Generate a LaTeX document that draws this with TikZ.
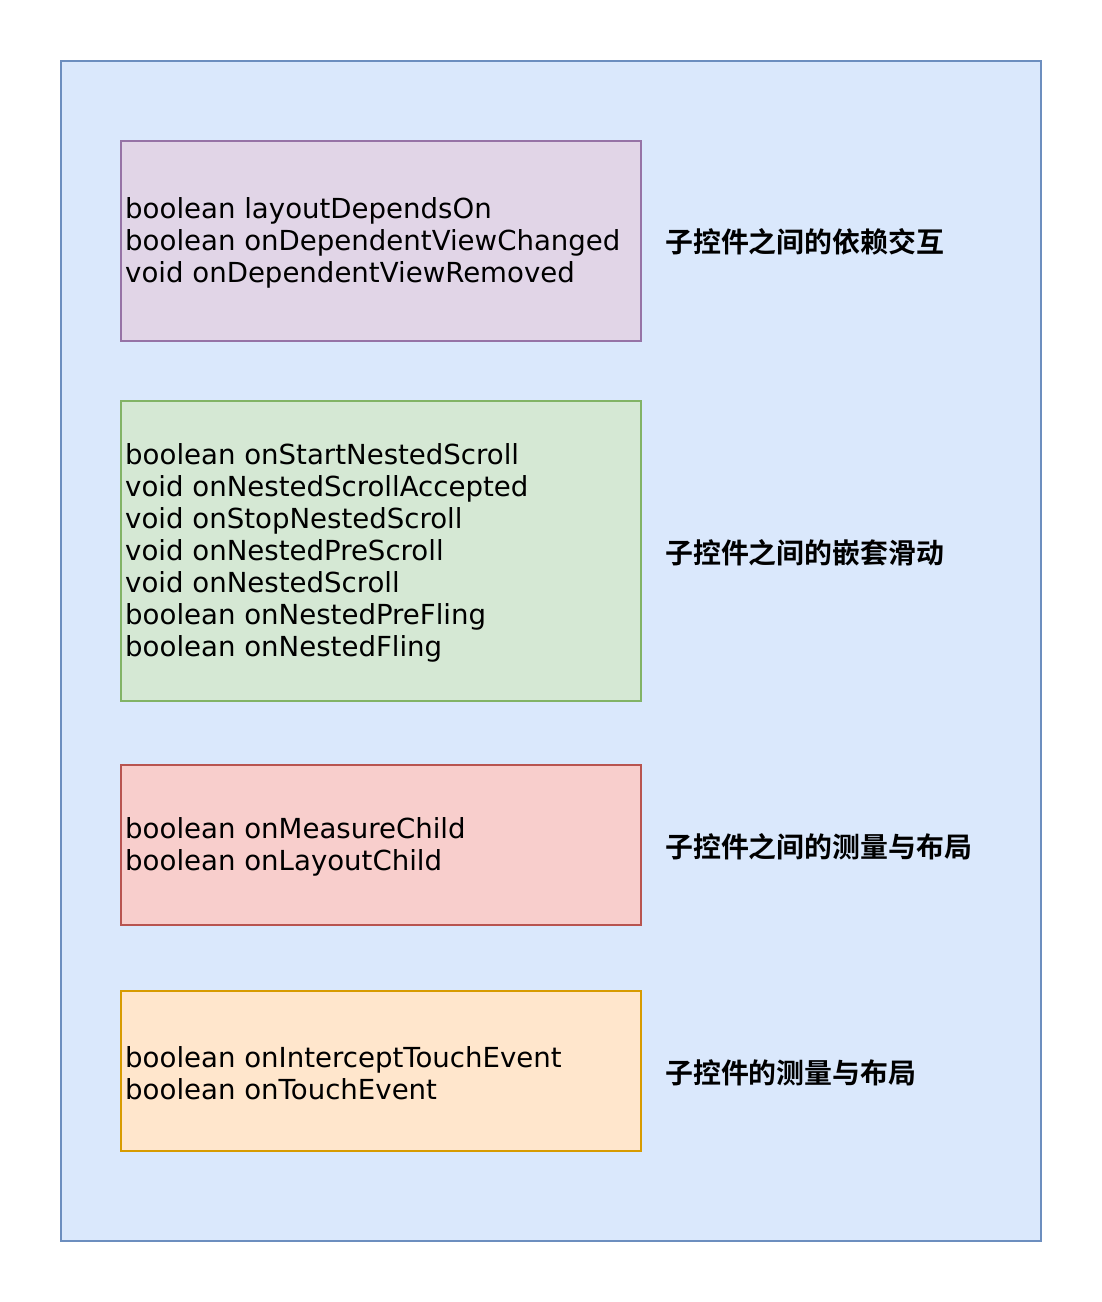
\documentclass[tikz,border=0pt]{standalone}
\usepackage{fontspec}
\setmainfont{DejaVu Sans}
\newfontfamily\cjk{Noto Sans CJK SC}[BoldFont={Noto Sans CJK SC Bold}]
\definecolor{bluefill}{HTML}{DAE8FC}\definecolor{bluedraw}{HTML}{6C8EBF}
\definecolor{purpfill}{HTML}{E1D5E7}\definecolor{purpdraw}{HTML}{9673A6}
\definecolor{greenfill}{HTML}{D5E8D4}\definecolor{greendraw}{HTML}{82B366}
\definecolor{redfill}{HTML}{F8CECC}\definecolor{reddraw}{HTML}{B85450}
\definecolor{orfill}{HTML}{FFE6CC}\definecolor{ordraw}{HTML}{D79B00}
\begin{document}
\begin{tikzpicture}[x=1pt,y=-1pt,
  box/.style={line width=1.5pt},
  code/.style={anchor=west,align=left,inner sep=0pt,font=\fontsize{27.6}{32}\selectfont},
  lab/.style={anchor=west,inner sep=0pt,font=\cjk\bfseries\fontsize{27.9}{32}\selectfont}]
\useasboundingbox (0,0) rectangle (1102,1302);
\filldraw[box,fill=bluefill,draw=bluedraw] (61,61) rectangle (1041,1241);
\filldraw[box,fill=purpfill,draw=purpdraw] (121,141) rectangle (641,341);
\filldraw[box,fill=greenfill,draw=greendraw] (121,401) rectangle (641,701);
\filldraw[box,fill=redfill,draw=reddraw] (121,765) rectangle (641,925);
\filldraw[box,fill=orfill,draw=ordraw] (121,991) rectangle (641,1151);
\node[code] (t1) at (125,243) {boolean layoutDependsOn\\boolean onDependentViewChanged\\void onDependentViewRemoved};
\node[code] (t2) at (125,553) {boolean onStartNestedScroll\\void onNestedScrollAccepted\\void onStopNestedScroll\\void onNestedPreScroll\\void onNestedScroll\\boolean onNestedPreFling\\boolean onNestedFling};
\node[code] (t3) at (125,847) {boolean onMeasureChild\\boolean onLayoutChild};
\node[code] (t4) at (125,1073) {boolean onInterceptTouchEvent\\boolean onTouchEvent};
\node[lab] (l1) at (665,242) {子控件之间的依赖交互};
\node[lab] (l2) at (665,553) {子控件之间的嵌套滑动};
\node[lab] (l3) at (665,847) {子控件之间的测量与布局};
\node[lab] (l4) at (665,1073) {子控件的测量与布局};
\end{tikzpicture}
\end{document}
